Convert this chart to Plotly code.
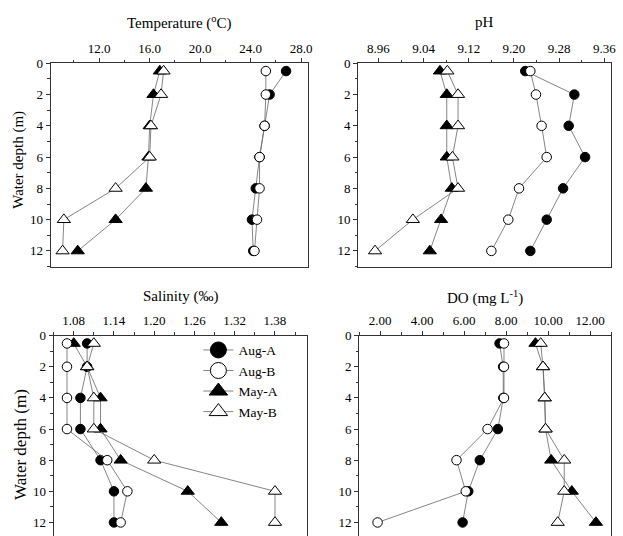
import plotly.graph_objects as go

# ---------------- data ----------------
depth = [0.5, 2, 4, 6, 8, 10, 12]
series_names = ["Aug-A", "Aug-B", "May-A", "May-B"]

temp_augA = [26.8, 25.5, 25.1, 24.7, 24.4, 24.1, 24.2]
temp_augB = [25.2, 25.2, 25.1, 24.7, 24.7, 24.5, 24.3]
temp_mayA = [16.8, 16.3, 16.0, 15.9, 15.7, 13.3, 10.3]
temp_mayB = [17.1, 16.9, 16.1, 16.0, 13.3, 9.2, 9.1]

ph_augA = [9.220, 9.307, 9.297, 9.326, 9.287, 9.258, 9.229]
ph_augB = [9.229, 9.239, 9.249, 9.258, 9.209, 9.190, 9.160]
ph_mayA = [9.069, 9.081, 9.081, 9.081, 9.090, 9.071, 9.051]
ph_mayB = [9.082, 9.101, 9.101, 9.091, 9.101, 9.021, 8.954]

sal_augA = [1.10, 1.10, 1.09, 1.09, 1.12, 1.14, 1.14]
sal_augB = [1.07, 1.07, 1.07, 1.07, 1.13, 1.16, 1.15]
sal_mayA = [1.08, 1.10, 1.12, 1.12, 1.15, 1.25, 1.30]
sal_mayB = [1.11, 1.10, 1.11, 1.11, 1.20, 1.38, 1.38]

do_augA = [7.69, 7.86, 7.87, 7.61, 6.75, 6.20, 5.93]
do_augB = [7.90, 7.90, 7.90, 7.12, 5.64, 6.08, 1.88]
do_mayA = [9.40, 9.76, 9.84, 9.88, 10.15, 11.13, 12.28]
do_mayB = [9.65, 9.76, 9.84, 9.88, 10.77, 10.77, 10.46]

panel_titles = ["Temperature (<sup>o</sup>C)", "pH", "Salinity (‰)", "DO (mg L<sup>-1</sup>)"]
y_title = "Water depth (m)"

# ---------------- styling ----------------
FONT = "Liberation Serif"
W, H = 623, 536
LINE = "#666666"
AX = "#333333"

styles = {
    "Aug-A": dict(symbol="circle", size=9.5, color="black", line=dict(color="black", width=1)),
    "Aug-B": dict(symbol="circle", size=9.5, color="white", line=dict(color="black", width=1)),
    "May-A": dict(symbol="triangle-up", size=11.5, color="black", line=dict(color="black", width=1)),
    "May-B": dict(symbol="triangle-up", size=11.5, color="white", line=dict(color="black", width=1)),
}

panels = [
    (dict(zip(series_names, [temp_augA, temp_augB, temp_mayA, temp_mayB])), ""),
    (dict(zip(series_names, [ph_augA, ph_augB, ph_mayA, ph_mayB])), "2"),
    (dict(zip(series_names, [sal_augA, sal_augB, sal_mayA, sal_mayB])), "3"),
    (dict(zip(series_names, [do_augA, do_augB, do_mayA, do_mayB])), "4"),
]

draw_order = ["Aug-A", "May-A", "Aug-B", "May-B"]

fig = go.Figure()
for data, sfx in panels:
    for name in draw_order:
        fig.add_trace(go.Scatter(
            x=data[name], y=depth, mode="lines+markers", name=name,
            xaxis="x" + sfx, yaxis="y" + sfx, showlegend=False,
            line=dict(color=LINE, width=0.8),
            marker=styles[name], cliponaxis=False,
        ))

# legend entries (legend-only traces, no coordinates)
for name in series_names:
    st = dict(styles[name])
    st["size"] = 16
    fig.add_trace(go.Scatter(
        x=[None], y=[None], mode="lines+markers", name=name,
        xaxis="x3", yaxis="y3", showlegend=True,
        line=dict(color=LINE, width=0.8), marker=st,
    ))

def px(x):
    return x / W

def py(y):
    return 1 - y / H

top_y = [py(263), py(57)]
bot_y = [0.0, py(333)]

x_domains = [
    [px(51), px(310)],
    [px(361), px(616)],
    [px(54), px(309)],
    [px(362), px(616)],
]
y_domains = [top_y, top_y, bot_y, bot_y]
x_ranges = [[8.15, 28.5], [8.924, 9.372], [1.05, 1.427], [1.0, 13.0]]
x_tick0 = [12, 8.96, 1.08, 2]
x_dtick = [4, 0.08, 0.06, 2]
x_minor = [2, 0.04, 0.03, 1]
x_fmt = [".1f", ".2f", ".2f", ".2f"]
y_ranges = [[13, 0], [13, 0], [12.87, 0], [12.87, 0]]
is_top = [True, True, False, False]

tickfont = dict(family=FONT, size=13, color="black")
layout_axes = {}
for i in range(4):
    sfx = "" if i == 0 else str(i + 1)
    layout_axes["xaxis" + sfx] = dict(
        domain=x_domains[i], range=x_ranges[i], anchor="y" + sfx, side="top",
        showline=True, linecolor=AX, linewidth=1, mirror=is_top[i],
        ticks="outside", ticklen=4, tickcolor=AX, tickwidth=1,
        tick0=x_tick0[i], dtick=x_dtick[i], tickformat=x_fmt[i],
        minor=dict(dtick=x_minor[i], tick0=x_tick0[i], ticks="outside", ticklen=2.5, tickcolor=AX),
        showgrid=False, zeroline=False, tickfont=tickfont,
    )
    layout_axes["yaxis" + sfx] = dict(
        domain=y_domains[i], range=y_ranges[i], anchor="x" + sfx,
        showline=True, linecolor=AX, linewidth=1, mirror=True,
        ticks="outside", ticklen=4, tickcolor=AX, tickwidth=1,
        tick0=0, dtick=2,
        minor=dict(dtick=1, tick0=0, ticks="outside", ticklen=2.5, tickcolor=AX),
        showgrid=False, zeroline=False, tickfont=tickfont,
    )

title_pos = [(px(180.5), py(16)), (px(488.5), py(15)), (px(181.5), py(293)), (px(489), py(294))]
annotations = []
for i, t in enumerate(panel_titles):
    annotations.append(dict(
        text=t, x=title_pos[i][0], y=title_pos[i][1], xref="paper", yref="paper",
        xanchor="center", yanchor="middle", showarrow=False,
        font=dict(family=FONT, size=15, color="black"),
    ))
annotations.append(dict(text=y_title, x=px(19), y=py(155), xref="paper", yref="paper",
                        textangle=-90, showarrow=False, xanchor="center", yanchor="middle",
                        font=dict(family=FONT, size=15, color="black")))
annotations.append(dict(text=y_title, x=px(20), y=py(443), xref="paper", yref="paper",
                        textangle=-90, showarrow=False, xanchor="center", yanchor="middle",
                        font=dict(family=FONT, size=17, color="black")))

fig.update_layout(
    width=W, height=H,
    margin=dict(l=0, r=0, t=0, b=0),
    paper_bgcolor="white", plot_bgcolor="white",
    annotations=annotations,
    legend=dict(
        x=px(200), y=py(332), xanchor="left", yanchor="top",
        bgcolor="rgba(0,0,0,0)", borderwidth=0, tracegroupgap=0,
        font=dict(family=FONT, size=13.5, color="black"),
        itemwidth=30,
    ),
    **layout_axes,
)

fig.write_html(
    "out.html",
    config={"displayModeBar": False},
    post_script="document.body.style.margin='0';document.body.style.overflow='hidden';",
)
